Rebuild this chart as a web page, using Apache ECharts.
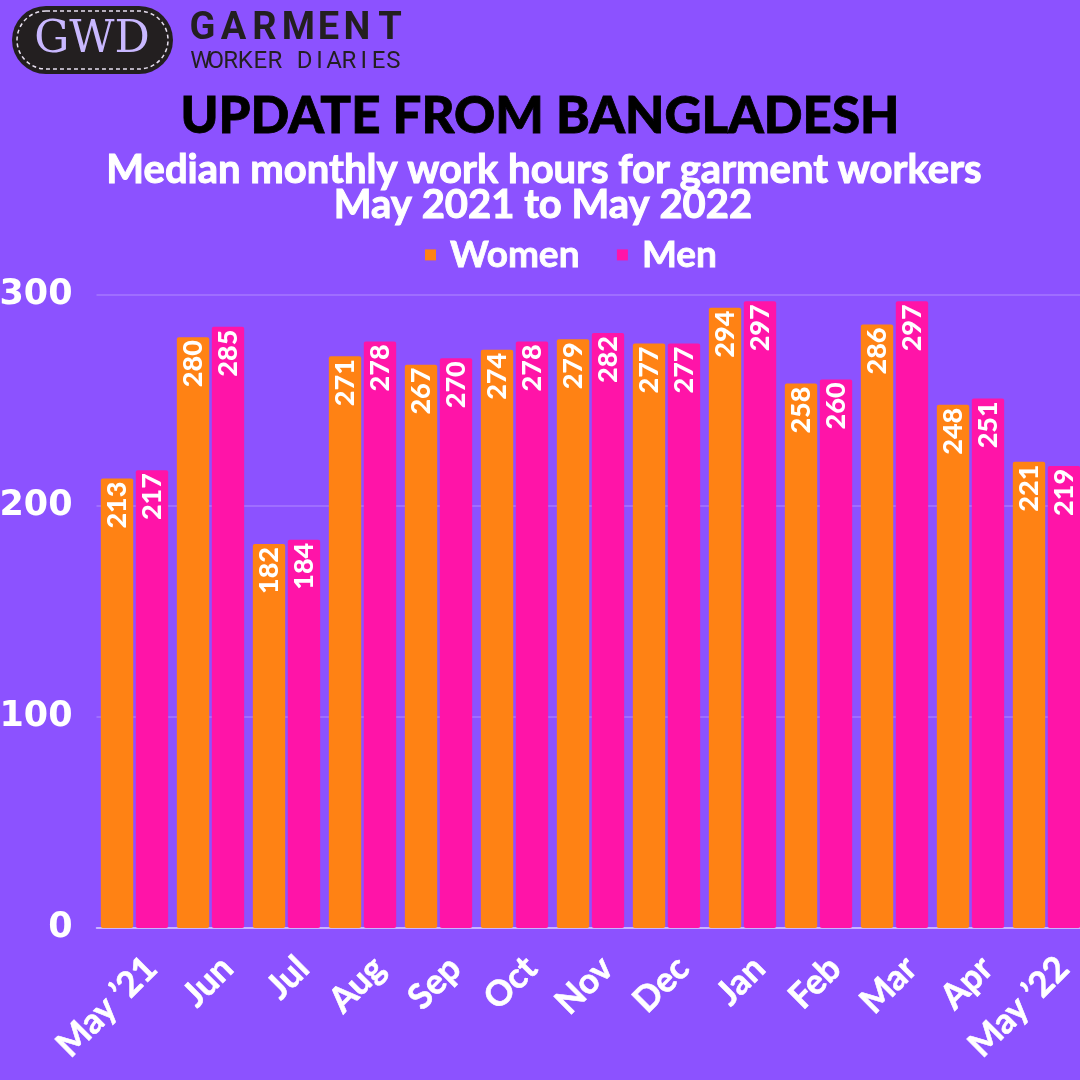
<!DOCTYPE html>
<html><head><meta charset="utf-8">
<script src="https://cdn.jsdelivr.net/npm/echarts@6/dist/echarts.min.js"></script>
<style>html,body{margin:0;padding:0;background:#8c52ff;}#c{width:1080px;height:1080px;}</style>
</head><body><div id="c"></div>
<script>
const categories = ["May \u201921","Jun","Jul","Aug","Sep","Oct","Nov","Dec","Jan","Feb","Mar","Apr","May \u201922"];
const women = [213,280,182,271,267,274,279,277,294,258,286,248,221];
const men = [217,285,184,278,270,278,282,277,297,260,297,251,219];
const yTicks = [0,100,200,300];

const chart = echarts.init(document.getElementById('c'), null, {renderer:'canvas'});
const F = 'Lato, "Open Sans", sans-serif';

function spaced(str, x0, adv, y, size, weight, color){
  const out = [];
  for (let i=0;i<str.length;i++){
    if (str[i]===' ') continue;
    out.push({type:'text', x:x0+adv*i, y:y, style:{text:str[i], fill:color, font: weight+' '+size+'px Roboto', textAlign:'center', textVerticalAlign:'middle'}});
  }
  return out;
}
const garment = [];
const gx = [202.5,233.5,264.5,298.5,328.5,357,390];
"GARMENT".split('').forEach((c,i)=>garment.push({type:'text', x:gx[i], y:29, style:{text:c, fill:'#231f20', font:'bold 38px Roboto', textAlign:'center', textVerticalAlign:'middle'}}));
const worker = spaced("WORKER DIARIES", 201, 14.8, 62, 24, 'normal', '#231f20');

const labelCommon = {show:true, position:'insideTop', rotate:90, align:'right', verticalAlign:'middle', distance:3, color:'#fff', fontFamily:F, fontWeight:900, fontSize:27};

chart.setOption({
  backgroundColor:'#8c52ff',
  animation:false,
  legend:{top:231, left:420, icon:'rect', itemWidth:11, itemHeight:11, itemGap:37, textStyle:{fontFamily:F, fontWeight:'bold', fontSize:37, color:'#fff', textBorderColor:'#fff', textBorderWidth:0.8, padding:[0,0,0,9]}, data:['Women','Men']},
  grid:{left:96.5, width:988, top:295, bottom:152, containLabel:false, outerBoundsMode:'none'},
  xAxis:{type:'category', data:categories, axisTick:{show:false}, axisLine:{lineStyle:{color:'#d9cbff', width:1.5}},
    axisLabel:{rotate:45, interval:0, margin:18, verticalAlign:'top', padding:[6,0,0,0], color:'#fff', fontFamily:F, fontWeight:'bold', fontSize:35, textBorderColor:'#fff', textBorderWidth:0.6}},
  yAxis:{type:'value', min:0, max:300, interval:100, axisLine:{show:false}, axisTick:{show:false},
    splitLine:{lineStyle:{color:'rgba(255,255,255,0.22)', width:1.5}},
    axisLabel:{margin:24, color:'#fff', fontFamily:'"DejaVu Sans"', fontWeight:'bold', fontSize:35}},
  series:[
    {name:'Women', type:'bar', data:women, itemStyle:{color:'#ff8214', borderRadius:2}, barGap:'8%', barCategoryGap:'11.4%', label:labelCommon},
    {name:'Men', type:'bar', data:men, itemStyle:{color:'#ff14a8', borderRadius:2}, label:labelCommon}
  ],
  graphic:[
    {type:'rect', shape:{x:12, y:6, width:161, height:68, r:34}, style:{fill:'#231f20'}},
    {type:'rect', shape:{x:17, y:11, width:151, height:58, r:29}, style:{fill:null, stroke:'#e8e0f0', lineWidth:1.5, lineDash:[4,3]}},
    {type:'text', x:92, y:41, style:{text:'GWD', fill:'#c9b8ff', font:'normal 44px "DejaVu Serif"', textAlign:'center', textVerticalAlign:'middle'}},
    {type:'text', x:540, y:117, style:{text:'UPDATE FROM BANGLADESH', fill:'#000', stroke:'#000', lineWidth:0.8, font:'900 51px Lato', textAlign:'center', textVerticalAlign:'middle'}},
    {type:'text', x:544, y:170, style:{text:'Median monthly work hours for garment workers', fill:'#fff', stroke:'#fff', lineWidth:1, font:'bold 40px Lato', textAlign:'center', textVerticalAlign:'middle'}},
    {type:'text', x:543, y:205, style:{text:'May 2021 to May 2022', fill:'#fff', stroke:'#fff', lineWidth:1, font:'bold 40px Lato', textAlign:'center', textVerticalAlign:'middle'}}
  ].concat(garment).concat(worker)
});
</script></body></html>
